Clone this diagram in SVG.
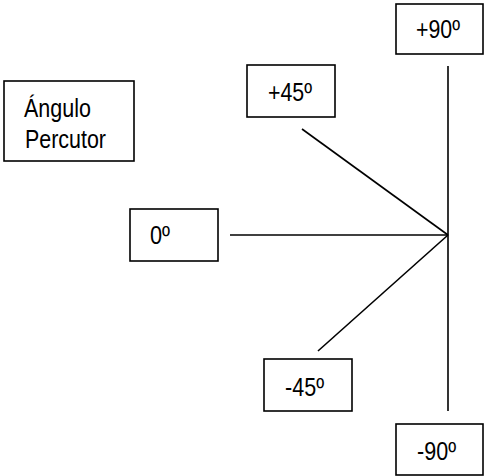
<svg xmlns="http://www.w3.org/2000/svg" width="484" height="476" viewBox="0 0 484 476">
  <style>
    .box { fill: #ffffff; stroke: #000000; stroke-width: 1.6; }
    .lbl { font-family: "Liberation Sans", Arial, sans-serif; font-size: 25px; fill: #000000; }
    .ray { stroke: #000000; stroke-width: 1.6; fill: none; }
  </style>
  <rect width="484" height="476" fill="#ffffff"/>

  <!-- rays meeting at the pivot point -->
  <g id="connectors">
    <line class="ray" x1="448" y1="66" x2="448" y2="411"/>
    <line class="ray" x1="230" y1="235" x2="448" y2="235"/>
    <line class="ray" x1="302" y1="129" x2="448" y2="235"/>
    <line class="ray" x1="318" y1="351" x2="448" y2="235"/>
  </g>

  <g id="title">
    <rect class="box" x="4" y="81" width="130" height="80"/>
    <text class="lbl" x="24" y="117" textLength="67" lengthAdjust="spacingAndGlyphs">Ángulo</text>
    <text class="lbl" x="25" y="148" textLength="81" lengthAdjust="spacingAndGlyphs">Percutor</text>
  </g>

  <g id="plus90">
    <rect class="box" x="396" y="4" width="87" height="50"/>
    <text class="lbl" x="416" y="38" textLength="44" lengthAdjust="spacingAndGlyphs">+90º</text>
  </g>

  <g id="plus45">
    <rect class="box" x="247" y="65" width="88" height="52"/>
    <text class="lbl" x="268" y="101" textLength="44" lengthAdjust="spacingAndGlyphs">+45º</text>
  </g>

  <g id="zero">
    <rect class="box" x="130" y="209" width="88" height="52"/>
    <text class="lbl" x="150" y="244" textLength="20" lengthAdjust="spacingAndGlyphs">0º</text>
  </g>

  <g id="minus45">
    <rect class="box" x="264" y="359" width="88" height="52"/>
    <text class="lbl" x="285" y="396" textLength="39" lengthAdjust="spacingAndGlyphs">-45º</text>
  </g>

  <g id="minus90">
    <rect class="box" x="396" y="424" width="87" height="51"/>
    <text class="lbl" x="417" y="460" textLength="39" lengthAdjust="spacingAndGlyphs">-90º</text>
  </g>
</svg>
